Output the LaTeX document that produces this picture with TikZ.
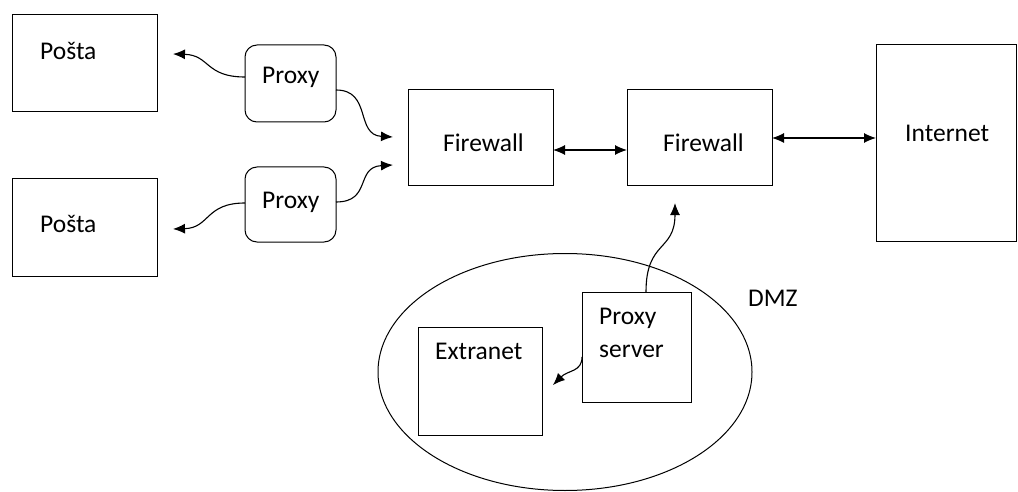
\documentclass[tikz,border=0pt]{standalone}
\usepackage{fontspec}
\setmainfont{Carlito}
\usetikzlibrary{arrows.meta,shapes.geometric}
\begin{document}
\begin{tikzpicture}[x=1pt,y=-1pt,
  box/.style={draw, line width=1pt, inner sep=0pt, outer sep=0pt},
  rbox/.style={box, rounded corners=12pt},
  lbl/.style={anchor=base west, inner sep=0pt, font=\fontsize{25.5}{30}\selectfont, text=black},
  conn/.style={line width=1.1pt, -{Latex[length=12pt,width=10pt]}},
  dconn/.style={line width=1.1pt, {Latex[length=12pt,width=10pt]}-{Latex[length=12pt,width=10pt]}}]
\useasboundingbox (0,0) rectangle (1018,492);
% boxes
\node[box, minimum width=145pt, minimum height=97pt] (posta1) at (84.5,63.5) {};
\node[box, minimum width=145pt, minimum height=97pt] (posta2) at (84.5,227.5) {};
\node[rbox, minimum width=91pt, minimum height=77pt] (proxy1) at (290.5,83.5) {};
\node[rbox, minimum width=91pt, minimum height=75pt] (proxy2) at (290.5,204.5) {};
\node[box, minimum width=145pt, minimum height=96pt] (fw1) at (480.5,138) {};
\node[box, minimum width=145pt, minimum height=96pt] (fw2) at (699.5,138) {};
\node[box, minimum width=140pt, minimum height=196pt] (inet) at (946,143) {};
\node[draw, ellipse, line width=1pt, inner sep=0pt, minimum width=374pt, minimum height=237pt] (dmz) at (565,372) {};
\node[box, minimum width=124pt, minimum height=108pt] (extra) at (480,381) {};
\node[box, minimum width=109pt, minimum height=110pt] (pserv) at (636.5,347) {};
% labels
\node[lbl] (tposta1) at (40,60) {Pošta};
\node[lbl] (tposta2) at (40,232) {Pošta};
\node[lbl] (tproxy1) at (262,84) {Proxy};
\node[lbl] (tproxy2) at (262,208) {Proxy};
\node[lbl] (tfw1) at (443,152) {Firewall};
\node[lbl] (tfw2) at (663,152) {Firewall};
\node[lbl] (tinet) at (905,142) {Internet};
\node[lbl] (tdmz) at (748,306) {DMZ};
\node[lbl] (textra) at (435,359) {Extranet};
\node[lbl] (tps1) at (599,324) {Proxy};
\node[lbl] (tps2) at (599,357) {server};
% free ends
\coordinate (e1) at (173,54);
\coordinate (e2) at (393,137);
\coordinate (e3) at (393,165);
\coordinate (e4) at (173,229);
\coordinate (e5) at (675,203);
\coordinate (e6) at (553,385);
% connectors
\draw[conn] ([yshift=6.5pt]proxy1.west) .. controls (205,77) and (210,55) .. (e1);
\draw[conn] ([yshift=-6.5pt]proxy1.east) .. controls (372,90) and (355,135) .. (e2);
\draw[conn] ([yshift=2.5pt]proxy2.east) .. controls (372,202) and (355,167) .. (e3);
\draw[conn] ([yshift=1.5pt]proxy2.west) .. controls (205,203) and (210,228) .. (e4);
\draw[dconn] ([yshift=-12pt]fw1.east) -- ([yshift=-12pt]fw2.west);
\draw[dconn] (fw2.east) -- (fw2.east -| inet.west);
\draw[conn] ([xshift=9.5pt]pserv.north) .. controls (646,240) and (675,252) .. (e5);
\draw[conn] ([yshift=-10pt]pserv.west) .. controls (582,372) and (568,370) .. (e6);
\end{tikzpicture}
\end{document}
